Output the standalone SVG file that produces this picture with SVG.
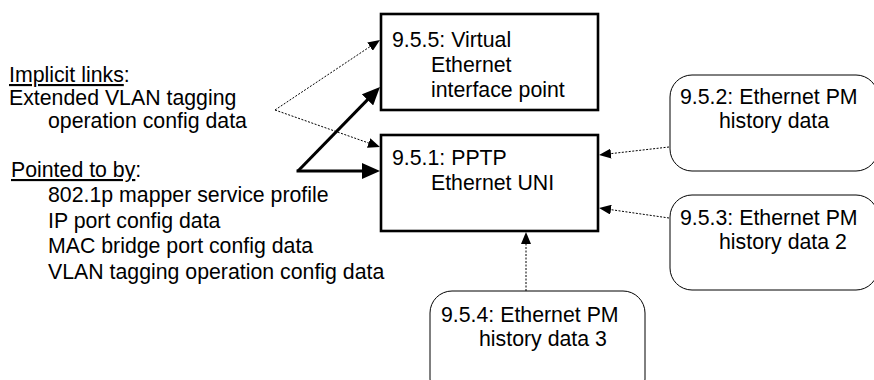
<svg xmlns="http://www.w3.org/2000/svg" width="874" height="380" viewBox="0 0 874 380">
<style>
text{font-family:"Liberation Sans",Arial,sans-serif;font-size:21.3px;fill:#000}
.box{fill:#fff;stroke:#000;stroke-width:2.6}
.rbox{fill:#fff;stroke:#000;stroke-width:1}
.thick{stroke:#000;stroke-width:3;fill:none}
.dot{stroke:#000;stroke-width:1;stroke-dasharray:2 1.5;fill:none}
.u{text-decoration:underline}
</style>
<defs>
<marker id="ah" markerUnits="userSpaceOnUse" markerWidth="18" markerHeight="16" refX="9" refY="8" orient="auto"><path d="M0,0 L18,8 L0,16 Z" fill="#000"/></marker>
<marker id="at" markerUnits="userSpaceOnUse" markerWidth="12" markerHeight="10" refX="6" refY="5" orient="auto"><path d="M0,0 L12,5 L0,10 Z" fill="#000"/></marker>
</defs>
<g id="labels">
<text x="9" y="82"><tspan class="u">Implicit links</tspan>:</text>
<text x="9" y="105">Extended VLAN tagging</text>
<text x="48" y="128">operation config data</text>
<text x="11" y="177"><tspan class="u">Pointed to by</tspan>:</text>
<text x="48" y="202">802.1p mapper service profile</text>
<text x="48" y="227.5">IP port config data</text>
<text x="48" y="253">MAC bridge port config data</text>
<text x="48" y="278.5">VLAN tagging operation config data</text>
</g>
<g id="n955">
<rect class="box" x="381" y="14" width="217" height="96"/>
<text x="392" y="46.5">9.5.5: Virtual</text>
<text x="431" y="71.5">Ethernet</text>
<text x="431" y="96.5">interface point</text>
</g>
<g id="n951">
<rect class="box" x="381" y="135" width="217" height="96"/>
<text x="392" y="165">9.5.1: PPTP</text>
<text x="431" y="190">Ethernet UNI</text>
</g>
<g id="n952">
<rect class="rbox" x="670" y="75" width="208" height="96" rx="22" ry="22"/>
<text x="680" y="104">9.5.2: Ethernet PM</text>
<text x="719" y="128">history data</text>
</g>
<g id="n953">
<rect class="rbox" x="670" y="195" width="208" height="95" rx="22" ry="22"/>
<text x="680" y="225">9.5.3: Ethernet PM</text>
<text x="719" y="249">history data 2</text>
</g>
<g id="n954">
<rect class="rbox" x="430" y="291" width="215" height="110" rx="22" ry="22"/>
<text x="441" y="321.5">9.5.4: Ethernet PM</text>
<text x="479" y="345.5">history data 3</text>
</g>
<g id="connectors">
<path class="dot" d="M275,110 L375,43.3" marker-end="url(#at)"/>
<path class="dot" d="M275,110 L374.3,145" marker-end="url(#at)"/>
<path class="thick" d="M298,171 L373.7,93.4" marker-end="url(#ah)"/>
<path class="thick" d="M296.5,171 L371,171" marker-end="url(#ah)"/>
<path class="dot" d="M669,147 L605,154.3" marker-end="url(#at)"/>
<path class="dot" d="M669,218 L605,208.8" marker-end="url(#at)"/>
<path class="dot" d="M526,291 L526,238" marker-end="url(#at)"/>
</g>
</svg>
